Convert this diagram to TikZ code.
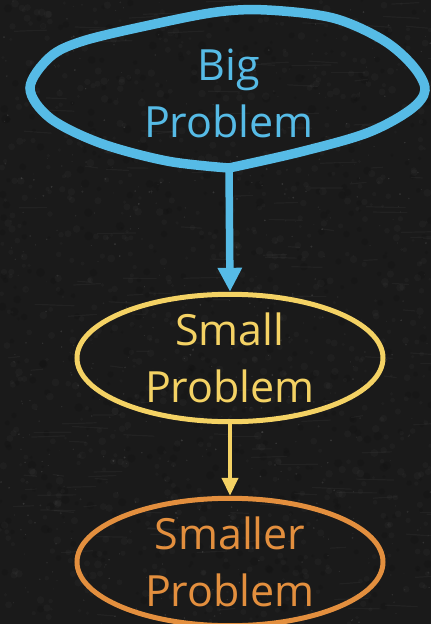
\documentclass[tikz,border=0pt]{standalone}
\usepackage{fontspec}
\setmainfont{Open Sans}
\usetikzlibrary{shapes.geometric,arrows.meta}

\definecolor{board}{HTML}{1A1A1A}
\definecolor{bigblue}{HTML}{56BBE6}
\definecolor{smallyellow}{HTML}{F4D264}
\definecolor{smallerorange}{HTML}{E38F3E}

\tikzset{
  label text/.style={font=\fontsize{43}{57}\selectfont, align=center, inner sep=0pt},
  problem ellipse/.style={ellipse, line width=5pt, minimum width=306pt, minimum height=122pt, inner sep=0pt},
  flow/.style={line width=#1},
}

\begin{document}
\begin{tikzpicture}[x=1pt,y=-1pt]
  % chalkboard
  \fill[board] (0,0) rectangle (431,624);
  \useasboundingbox (0,0) rectangle (431,624);
  \pgfmathsetseed{11}
  % fine mottling
  \foreach \i in {1,...,900}{
    \pgfmathsetmacro{\px}{215.5+215.5*rand}
    \pgfmathsetmacro{\py}{312+312*rand}
    \pgfmathsetmacro{\rr}{1.5+2.5*rnd}
    \fill[white,opacity=0.025] (\px,\py) circle[radius=\rr];
  }
  \foreach \i in {1,...,500}{
    \pgfmathsetmacro{\px}{215.5+215.5*rand}
    \pgfmathsetmacro{\py}{312+312*rand}
    \pgfmathsetmacro{\rr}{1.5+3*rnd}
    \fill[black,opacity=0.08] (\px,\py) circle[radius=\rr];
  }
  % chalk dust specks
  \foreach \i in {1,...,500}{
    \pgfmathsetmacro{\px}{215.5+215.5*rand}
    \pgfmathsetmacro{\py}{312+312*rand}
    \pgfmathsetmacro{\op}{0.05+0.08*rnd}
    \pgfmathsetmacro{\rr}{0.4+0.7*rnd}
    \fill[white,opacity=\op] (\px,\py) circle[radius=\rr];
  }
  \foreach \i in {1,...,150}{
    \pgfmathsetmacro{\px}{215.5+215.5*rand}
    \pgfmathsetmacro{\py}{312+312*rand}
    \pgfmathsetmacro{\ln}{10+30*rnd}
    \draw[white,opacity=0.035,line width=1.2pt] (\px,\py) -- ++(\ln,2*rand);
  }

  % hand-drawn outline of the big problem, with a kink at its lowest point
  \draw[bigblue,line width=9.5pt,line join=miter]
    plot[smooth,tension=0.55] coordinates {
      (229,168) (167,161) (100,143) (50,118) (30,88) (50,57) (83,41)
      (150,25) (217,12) (267,10) (333,18) (383,40) (413,66) (425,90)
      (410,110) (367,133) (300,152) (229,168)} -- cycle;
  \node[label text,text=bigblue] (big) at (229,93) {Big\\Problem};
  \coordinate (bigbottom) at (229,166);

  \node[problem ellipse,draw=smallyellow,text=smallyellow,font=\fontsize{43}{57}\selectfont,align=center]
    (small) at (230,358) {Small\\Problem};
  \node[problem ellipse,draw=smallerorange,text=smallerorange,font=\fontsize{43}{57}\selectfont,align=center]
    (smaller) at (230,562) {Smaller\\Problem};

  \draw[bigblue,flow=7.5pt,-{Triangle[length=24pt,width=23pt]}]
    (bigbottom) -- (small.north);
  \draw[smallyellow,flow=4pt,-{Triangle[length=18pt,width=16pt]}]
    (small.south) -- (smaller.north);
\end{tikzpicture}
\end{document}
